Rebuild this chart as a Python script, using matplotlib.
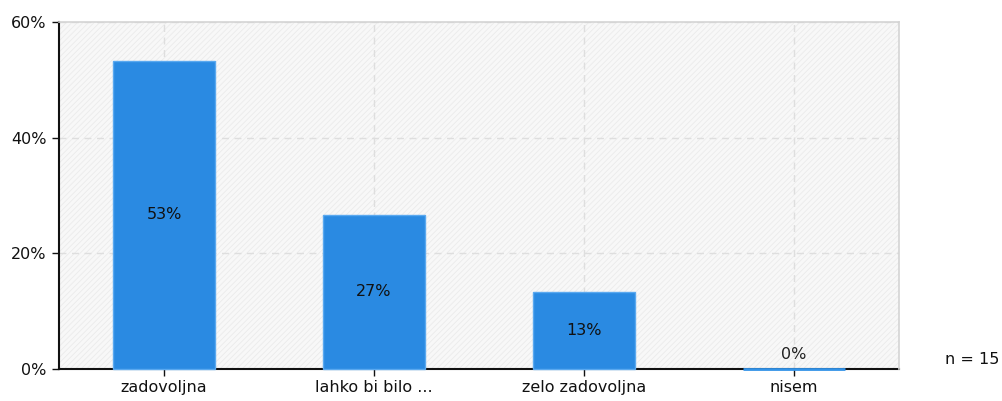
import matplotlib
matplotlib.use('Agg')

import matplotlib.pyplot as plt
from matplotlib.patches import Rectangle
from matplotlib.ticker import FuncFormatter

categories = ['zadovoljna', 'lahko bi bilo ...', 'zelo zadovoljna', 'nisem']
values = [53.33, 26.67, 13.33, 0.0]
labels = ['53%', '27%', '13%', '0%']
y_ticks = [0, 20, 40, 60]
n_text = 'n = 15'

plt.rcParams['font.family'] = 'DejaVu Sans'
plt.rcParams['hatch.linewidth'] = 0.6

fs = 11.5

fig = plt.figure(figsize=(10.03, 4.01), dpi=100)
ax = fig.add_axes([59 / 1003, 32 / 401, 840 / 1003, 347 / 401])

# hatched background
ax.set_facecolor('#f8f8f8')
ax.add_patch(Rectangle((0, 0), 1, 1, transform=ax.transAxes, facecolor='none',
                       edgecolor='#ebebeb', hatch='//////', linewidth=0, zorder=0))

x = list(range(len(categories)))
bars = ax.bar(x, values, width=0.49, color='#2a8ae2', edgecolor='#5aa9f0',
              linewidth=1, zorder=3)
for b, v in zip(bars, values):
    b.set_clip_on(False)
    if v == 0:
        b.set_edgecolor('#3393e8')
        b.set_linewidth(2)

for xi, v, lab in zip(x, values, labels):
    if v > 0:
        ax.text(xi, v / 2, lab, ha='center', va='center', fontsize=fs,
                color='#111111', zorder=4)
    else:
        ax.text(xi, 1.2, lab, ha='center', va='bottom', fontsize=fs,
                color='#222222', zorder=4)

ax.set_xlim(-0.5, len(categories) - 0.5)
ax.set_ylim(0, 60)
ax.set_yticks(y_ticks)
ax.yaxis.set_major_formatter(FuncFormatter(lambda v, p: f'{v:.0f}%'))
ax.set_xticks(x)
ax.set_xticklabels(categories)

ax.grid(True, color='#dedede', linestyle=(0, (5, 4)), linewidth=1, zorder=1)
ax.set_axisbelow(True)

ax.tick_params(axis='both', labelsize=fs, colors='#111111', length=5, width=1)
ax.tick_params(axis='y', pad=4)
ax.tick_params(axis='x', pad=3)

for side in ['top', 'right']:
    ax.spines[side].set_color('#d4d4d4')
    ax.spines[side].set_linewidth(1.2)
for side in ['left', 'bottom']:
    ax.spines[side].set_color('#111111')
    ax.spines[side].set_linewidth(1.5)
ax.spines['bottom'].set_zorder(2)

fig.text(945 / 1003, 1 - 360 / 401, n_text, ha='left', va='center',
         fontsize=fs, color='#111111')

fig.savefig('out.png', dpi=100)
